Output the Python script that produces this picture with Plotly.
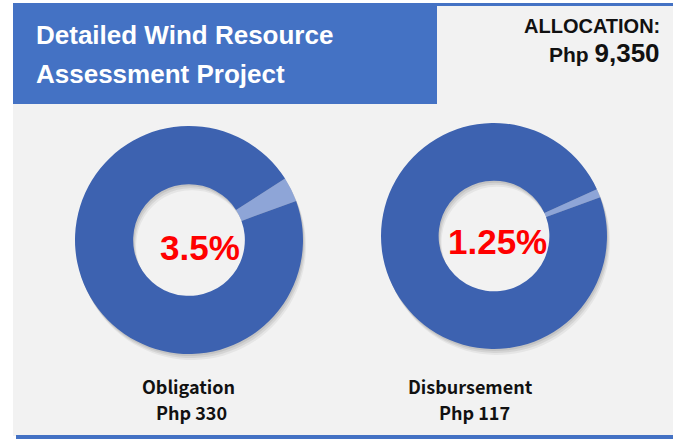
import plotly.graph_objects as go

W, H = 673, 439

# ---- data ----
title_lines = ["Detailed Wind Resource", "Assessment Project"]
allocation_label = "ALLOCATION:"
allocation_value = 9350
categories = ["Obligation", "Disbursement"]
amounts = [330, 117]
percents = [3.5, 1.25]

BLUE = "#4472c4"
RING = "#3d62b0"
SLICE = "#8ea5d7"


def px(x):
    return x / W


def py(y):
    return 1 - y / H


fig = go.Figure()

# donut geometry (pixel centres / radius)
donuts = [
    dict(cx=189, cy=240, r=114, tx=200, ty=247, lx=188),
    dict(cx=494, cy=236, r=113, tx=497, ty=241, lx=471),
]

for i, (cat, amt, pct) in enumerate(zip(categories, amounts, percents)):
    d = donuts[i]
    vals = [pct, 100 - pct]
    rot = 70 - pct * 3.6
    # soft shadow
    for off, alpha in [(6, 0.05), (4, 0.07), (2, 0.08)]:
        fig.add_trace(go.Pie(
            values=vals, hole=0.49, sort=False, direction="clockwise", rotation=rot,
            marker=dict(colors=[f"rgba(0,0,0,{alpha})"] * 2, line=dict(width=0)),
            textinfo="none", hoverinfo="skip", showlegend=False,
            domain=dict(x=[px(d["cx"] - d["r"] + off / 2), px(d["cx"] + d["r"] + off / 2)],
                        y=[py(d["cy"] + d["r"] + off), py(d["cy"] - d["r"] + off)]),
        ))
    fig.add_trace(go.Pie(
        values=vals, labels=["Used", "Remaining"], hole=0.49, sort=False,
        direction="clockwise", rotation=rot,
        marker=dict(colors=[SLICE, RING], line=dict(width=0)),
        textinfo="none", showlegend=False,
        domain=dict(x=[px(d["cx"] - d["r"]), px(d["cx"] + d["r"])],
                    y=[py(d["cy"] + d["r"]), py(d["cy"] - d["r"])]),
    ))
    pct_txt = f"{pct:g}%"
    fig.add_annotation(x=px(d["tx"]), y=py(d["ty"]), xref="paper", yref="paper",
                       text=f"<b>{pct_txt}</b>", showarrow=False,
                       font=dict(family="Liberation Sans, Arial, sans-serif",
                                 size=35, color="#ff0000"),
                       xanchor="center", yanchor="middle")
    foot_font = dict(family="Noto Sans CJK JP, Noto Sans, sans-serif", size=18, color="#111111")
    fig.add_annotation(x=px(d["lx"]), y=py(386), xref="paper", yref="paper",
                       text=f"<b>{cat}</b>", showarrow=False, font=foot_font,
                       xanchor="center", yanchor="middle")
    fig.add_annotation(x=px(d["lx"] + 3), y=py(412), xref="paper", yref="paper",
                       text=f"<b>Php {amt:,}</b>", showarrow=False, font=foot_font,
                       xanchor="center", yanchor="middle")

# title text
for line, yy in zip(title_lines, [35, 74]):
    fig.add_annotation(x=px(34), y=py(yy), xref="paper", yref="paper",
                       text=f"<b>{line}</b>", showarrow=False,
                       font=dict(family="Liberation Sans, Arial, sans-serif",
                                 size=26, color="white"),
                       xanchor="left", yanchor="middle")

fig.add_annotation(x=px(662), y=py(26), xref="paper", yref="paper",
                   text=f"<b>{allocation_label}</b>", showarrow=False,
                   font=dict(family="Liberation Sans, Arial, sans-serif", size=20, color="#111111"),
                   xanchor="right", yanchor="middle")
fig.add_annotation(x=px(662), y=py(53), xref="paper", yref="paper",
                   text=f"<b>Php <span style='font-size:26px'>{allocation_value:,}</span></b>",
                   showarrow=False,
                   font=dict(family="Liberation Sans, Arial, sans-serif", size=21, color="#111111"),
                   xanchor="right", yanchor="middle")

shapes = [
    dict(type="rect", x0=px(13), x1=px(673), y0=py(3), y1=py(436), fillcolor="#f2f2f2",
         line=dict(width=0), layer="below"),
    dict(type="rect", x0=px(13), x1=px(673), y0=py(3), y1=py(6), fillcolor=BLUE,
         line=dict(width=0), layer="below"),
    dict(type="rect", x0=px(13), x1=px(437), y0=py(3), y1=py(104), fillcolor=BLUE,
         line=dict(width=0), layer="below"),
    dict(type="rect", x0=px(16), x1=px(673), y0=py(435), y1=py(439), fillcolor=BLUE,
         line=dict(width=0), layer="below"),
]
for s in shapes:
    s["xref"] = "paper"
    s["yref"] = "paper"

fig.update_layout(width=W, height=H, margin=dict(l=0, r=0, t=0, b=0),
                  paper_bgcolor="white", plot_bgcolor="white", shapes=shapes,
                  showlegend=False)

fig.write_html("out.html", config={"displayModeBar": False},
               post_script="document.body.style.margin='0';document.body.style.overflow='hidden';")
